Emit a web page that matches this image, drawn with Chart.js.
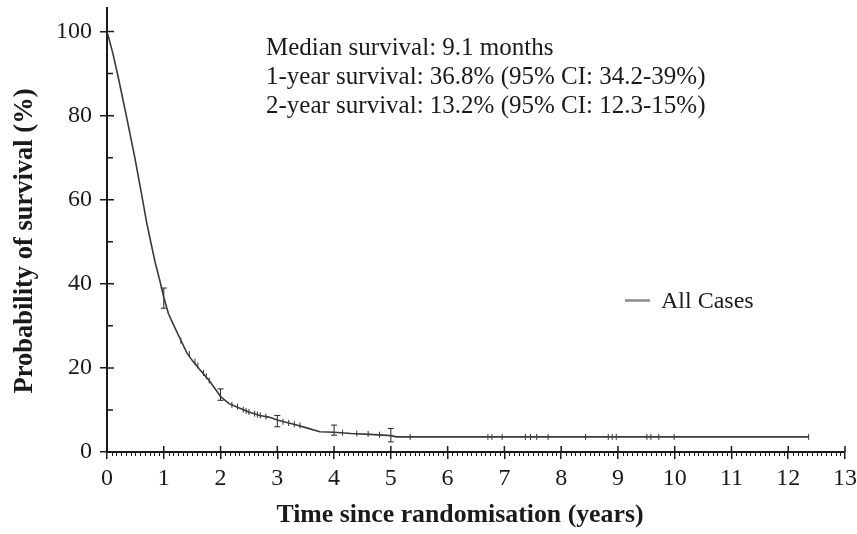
<!DOCTYPE html>
<html>
<head>
<meta charset="utf-8">
<script src="https://cdn.jsdelivr.net/npm/chart.js@4.4.0/dist/chart.umd.min.js"></script>
<style>
  html, body { margin: 0; padding: 0; background: #fff; }
  #wrap { width: 857px; height: 534px; }
</style>
</head>
<body>
<div id="wrap"><canvas id="surv" width="857" height="534"></canvas></div>
<script>
// Kaplan-Meier estimate, all cases (time in years, survival in %)
const survTime = [0, 0.1, 0.2, 0.34, 0.49, 0.6, 0.7, 0.77, 0.85, 0.93, 1.0, 1.08, 1.16, 1.25, 1.41, 1.5, 1.64, 1.8, 2.0,
                  2.15, 2.34, 2.5, 2.69, 2.85, 3.0, 3.2, 3.34, 3.5, 3.75, 4.0, 4.3, 4.63, 5.0, 5.1, 12.36];
const survPct  = [100, 95, 89, 80, 70, 62, 54.5, 50, 45, 40.8, 36.8, 33, 30.6, 28, 23.5, 21.8, 19.5, 17, 13.2,
                  11.5, 10.4, 9.5, 8.7, 8.3, 7.6, 6.9, 6.4, 5.8, 4.8, 4.7, 4.4, 4.2, 3.9, 3.6, 3.6];

// censored observations
const censorTime = [1.3, 1.45, 1.55, 1.6, 1.7, 1.75, 1.8, 2.2, 2.3, 2.4, 2.45, 2.5, 2.6, 2.65, 2.7, 2.8,
                    3.1, 3.2, 3.3, 3.4, 4.15, 4.4, 4.6, 4.8, 5.34, 6.71, 6.78, 6.96, 7.37, 7.46, 7.57, 7.77,
                    8.43, 8.83, 8.9, 8.97, 9.51, 9.58, 9.72, 9.99, 12.36];
const censorPct  = [26.5, 23.3, 21.5, 20.6, 18.8, 18, 17, 11.2, 10.8, 10.1, 9.8, 9.5, 9.1, 8.9, 8.7, 8.4,
                    7.2, 6.9, 6.6, 6.3, 4.6, 4.4, 4.3, 4.1, 3.6, 3.6, 3.6, 3.6, 3.6, 3.6, 3.6, 3.6,
                    3.6, 3.6, 3.6, 3.6, 3.6, 3.6, 3.6, 3.6, 3.6];

// 95% confidence intervals at yearly landmarks
const ciTime = [1, 2, 3, 4, 5];
const ciLow  = [34.2, 12.3, 6.0, 4.0, 2.4];
const ciHigh = [39, 15, 8.7, 6.4, 5.6];

const yTicks = [0, 20, 40, 60, 80, 100];
const xTicks = [0, 1, 2, 3, 4, 5, 6, 7, 8, 9, 10, 11, 12, 13];

const notes = [
  'Median survival: 9.1 months',
  '1-year survival: 36.8% (95% CI: 34.2-39%)',
  '2-year survival: 13.2% (95% CI: 12.3-15%)'
];
const seriesName = 'All Cases';
const xTitle = 'Time since randomisation (years)';
const yTitle = 'Probability of survival (%)';

const serif = "'Liberation Serif', 'Times New Roman', serif";
const ink = '#1a1a1a';

// build the CI bars as one line dataset broken by gaps
const ciPoints = [];
for (let i = 0; i < ciTime.length; i++) {
  ciPoints.push({x: ciTime[i], y: ciLow[i]});
  ciPoints.push({x: ciTime[i], y: ciHigh[i]});
  ciPoints.push({x: ciTime[i], y: null});
}

// minor ticks and the inner half of the major ticks
const tickMarks = {
  id: 'tickMarks',
  afterDraw(chart) {
    const ctx = chart.ctx, xs = chart.scales.x, ys = chart.scales.y;
    const y0 = ys.getPixelForValue(0), x0 = xs.getPixelForValue(0);
    ctx.save();
    ctx.strokeStyle = ink;
    ctx.lineWidth = 1;
    ctx.beginPath();
    for (let m = 1; m < 13 * 12; m++) {
      if (m % 12 === 0) continue;
      const px = Math.round(xs.getPixelForValue(m / 12)) + 0.5;
      ctx.moveTo(px, y0);
      ctx.lineTo(px, y0 + 4);
    }
    ctx.stroke();
    ctx.lineWidth = 1.5;
    ctx.beginPath();
    xTicks.forEach(v => {
      const px = xs.getPixelForValue(v);
      ctx.moveTo(px, y0);
      ctx.lineTo(px, y0 - 6);
    });
    yTicks.forEach(v => {
      const py = ys.getPixelForValue(v);
      ctx.moveTo(x0, py);
      ctx.lineTo(x0 + 7, py);
    });
    [10, 30, 50, 70, 90].forEach(v => {
      const py = ys.getPixelForValue(v);
      ctx.moveTo(x0, py);
      ctx.lineTo(x0 + 6, py);
    });
    ctx.stroke();
    ctx.restore();
  }
};

// axis titles, summary text block and the legend entry
const notesAndKey = {
  id: 'notesAndKey',
  afterDraw(chart) {
    const ctx = chart.ctx;
    ctx.save();
    ctx.fillStyle = ink;

    ctx.textAlign = 'center';
    ctx.textBaseline = 'middle';
    ctx.font = 'bold 25.8px ' + serif;
    ctx.fillText(xTitle, 460, 515);
    ctx.font = 'bold 26.5px ' + serif;
    ctx.save();
    ctx.translate(25, 241);
    ctx.rotate(-Math.PI / 2);
    ctx.fillText(yTitle, 0, 0);
    ctx.restore();

    ctx.textAlign = 'left';
    ctx.textBaseline = 'alphabetic';
    ctx.font = '25px ' + serif;
    notes.forEach((t, i) => ctx.fillText(t, 266, 55 + i * 29));

    ctx.strokeStyle = '#8a8a8a';
    ctx.lineWidth = 2.5;
    ctx.beginPath();
    ctx.moveTo(625, 300.5);
    ctx.lineTo(650, 300.5);
    ctx.stroke();
    ctx.font = '24px ' + serif;
    ctx.fillText(seriesName, 661, 308);
    ctx.restore();
  }
};

const ctx = document.getElementById('surv').getContext('2d');
const chart = new Chart(ctx, {
  type: 'line',
  data: {
    datasets: [{
      label: seriesName,
      data: survTime.map((t, i) => ({x: t, y: survPct[i]})),
      borderColor: '#3a3a3a',
      borderWidth: 1.6,
      pointRadius: 0,
      tension: 0
    }, {
      label: 'censored',
      data: censorTime.map((t, i) => ({x: t, y: censorPct[i]})),
      showLine: false,
      pointStyle: 'line',
      rotation: 90,
      pointRadius: 3,
      borderColor: '#333',
      borderWidth: 1
    }, {
      label: '95% CI',
      data: ciPoints,
      borderColor: '#222',
      borderWidth: 1,
      spanGaps: false,
      pointStyle: 'line',
      pointRadius: 3,
      pointBorderWidth: 1
    }]
  },
  options: {
    responsive: false,
    animation: false,
    layout: { padding: { top: 8, right: 12, left: 0, bottom: 0 } },
    plugins: { legend: { display: false }, tooltip: { enabled: false } },
    scales: {
      x: {
        type: 'linear',
        min: 0,
        max: 13,
        afterBuildTicks: s => { s.ticks = xTicks.map(v => ({value: v})); },
        afterFit: s => { s.height = 82; s.paddingLeft = 0; s.paddingRight = 0; },
        border: { display: true, color: ink, width: 2 },
        grid: { drawOnChartArea: false, tickLength: 7, color: ink, lineWidth: 1.5 },
        ticks: { color: ink, padding: 5, maxRotation: 0, font: { family: serif, size: 24 } },
        title: { display: false }
      },
      y: {
        type: 'linear',
        min: 0,
        max: 105.6,
        afterBuildTicks: s => { s.ticks = yTicks.map(v => ({value: v})); },
        afterFit: s => { s.width = 107; s.paddingTop = 0; s.paddingBottom = 0; },
        border: { display: true, color: ink, width: 2 },
        grid: { drawOnChartArea: false, tickLength: 7, color: ink, lineWidth: 1.5 },
        ticks: { color: ink, padding: 8, font: { family: serif, size: 24 } },
        title: { display: false }
      }
    }
  },
  plugins: [tickMarks, notesAndKey]
});
</script>
</body>
</html>
